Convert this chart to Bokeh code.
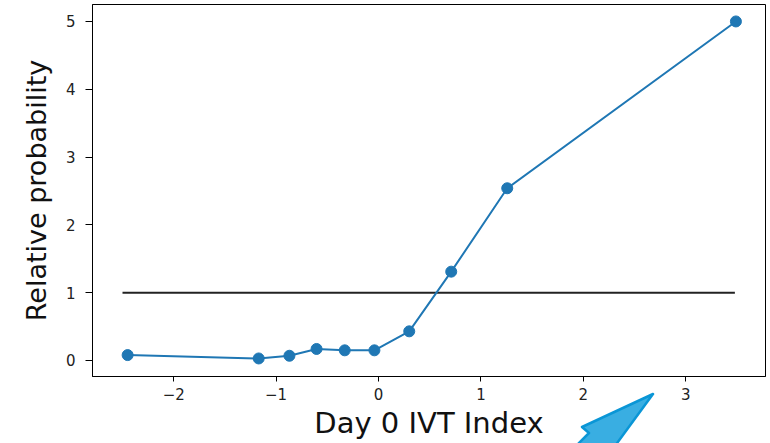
from bokeh.plotting import figure
from bokeh.models import Range1d, FixedTicker, Div
from bokeh.layouts import column
from bokeh.embed import file_html
from bokeh.resources import INLINE

# data
ivt_index = [-2.45, -1.17, -0.87, -0.605, -0.33, -0.04, 0.30, 0.71, 1.257, 3.49]
rel_prob = [0.08, 0.03, 0.07, 0.17, 0.15, 0.15, 0.43, 1.31, 2.54, 5.0]
ref_x = [-2.5, 3.48]
ref_y = [1.0, 1.0]
x_ticks = [-2, -1, 0, 1, 2, 3]
x_tick_labels = ["\u22122", "\u22121", "0", "1", "2", "3"]
y_ticks = [0, 1, 2, 3, 4, 5]

# decorative call-out arrow outline (pixels inside its own small svg box)
arrow_pts = [(93, 9), (22, 42), (29, 48), (12, 65), (52, 65)]

FONT = "DejaVu Sans"

p = figure(width=770, height=443, output_backend="svg", toolbar_location=None,
           x_range=Range1d(-2.793, 3.779), y_range=Range1d(-0.236, 5.25),
           min_border_left=92, min_border_right=5, min_border_top=4, min_border_bottom=67)
p.background_fill_color = "white"
p.border_fill_color = "white"
p.outline_line_color = "black"
p.outline_line_width = 1
p.grid.visible = False

p.line(ref_x, ref_y, line_color="#222222", line_width=2)
p.line(ivt_index, rel_prob, line_color="#1f77b4", line_width=2)
p.scatter(ivt_index, rel_prob, size=11, fill_color="#1f77b4", line_color="#1f77b4")

for ax in (p.xaxis[0], p.yaxis[0]):
    ax.axis_line_color = "black"
    ax.major_tick_line_color = "black"
    ax.minor_tick_line_color = None
    ax.major_tick_in = 0
    ax.major_label_text_font = FONT
    ax.major_label_text_font_size = "15px"
    ax.major_label_text_color = "#222222"
    ax.axis_label_text_font = FONT
    ax.axis_label_text_font_style = "normal"
    ax.axis_label_text_color = "#111111"

p.xaxis.ticker = FixedTicker(ticks=x_ticks)
p.xaxis.major_label_overrides = {t: l for t, l in zip(x_ticks, x_tick_labels)}
p.xaxis.major_tick_out = 5
p.xaxis.major_label_standoff = 6
p.xaxis.axis_label = "Day 0 IVT Index"
p.xaxis.axis_label_text_font_size = "29px"
p.xaxis.axis_label_standoff = 3

p.yaxis.ticker = FixedTicker(ticks=y_ticks)
p.yaxis.major_tick_out = 7
p.yaxis.major_label_standoff = 10
p.yaxis.axis_label = "Relative probability"
p.yaxis.axis_label_text_font_size = "27px"
p.yaxis.axis_label_standoff = 11

pts = " ".join(f"{a},{b}" for a, b in arrow_pts)
arrow_html = (
    '<svg width="110" height="70" style="position:absolute;left:555px;top:-63px;'
    'overflow:visible;pointer-events:none;z-index:10">'
    f'<polygon points="{pts}" fill="#39aee2" stroke="#0a96d6" stroke-width="2.5" '
    'stroke-linejoin="round"/></svg>'
)
overlay = Div(text=arrow_html, width=770, height=10, styles={"overflow": "visible"})

layout = column(p, overlay, spacing=0)
open("out.html", "w").write(file_html(layout, INLINE))
